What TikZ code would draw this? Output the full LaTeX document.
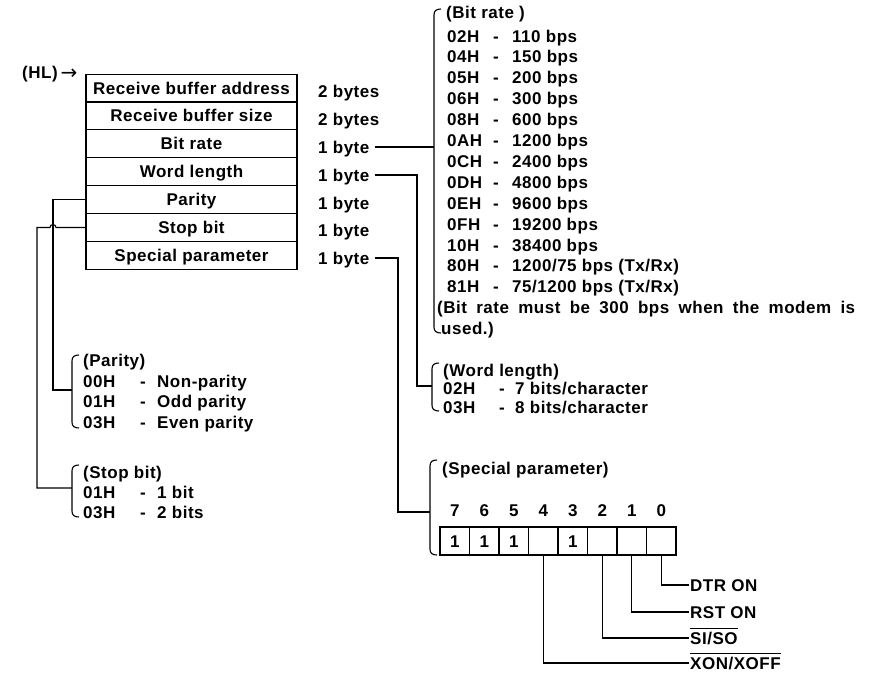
\documentclass[tikz,border=0pt]{standalone}
\usepackage{fontspec}
\setmainfont{Liberation Sans}[LetterSpace=3]
\newfontfamily\arrowfont{DejaVu Sans}
\newcommand\mybrack[3]{\draw[brk] (#1+7,#2) .. controls (#1+2,#2) and (#1,#2+2) .. (#1,#2+6) -- (#1,#3-6) .. controls (#1,#3-2) and (#1+2,#3) .. (#1+7,#3);}
\newcommand\hexline[6]{\node[txt] (#1) at (#2,#3) {\makebox[#4pt][l]{#5}#6};}
\begin{document}
\begin{tikzpicture}[x=1pt,y=-1pt,
  every node/.style={font=\fontsize{17}{20}\selectfont\bfseries},
  txt/.style={anchor=west,inner sep=0pt,text height=12pt,text depth=0pt},
  cell/.style={draw,line width=1.1pt,minimum width=211pt,minimum height=27.9pt,inner sep=0pt,text height=12pt,text depth=0pt},
  bitbox/.style={draw,line width=1.1pt,minimum width=29.5pt,minimum height=28pt,inner sep=0pt,text height=12pt,text depth=0pt},
  conn/.style={line width=1.1pt},
  brk/.style={line width=1.1pt}]
\useasboundingbox (0,0) rectangle (874,672);
\fill[white] (0,0) rectangle (874,672);

% HL pointer
\node[txt] (hl) at (22,72) {(HL)\,{\arrowfont\fontsize{20}{20}\selectfont\mdseries\raisebox{-1pt}{→}}};

% table
\node[cell] (r1) at (191.5,88) {Receive buffer address};
\node[cell] (r2) at (191.5,115.9) {Receive buffer size};
\node[cell] (r3) at (191.5,143.8) {Bit rate};
\node[cell] (r4) at (191.5,171.7) {Word length};
\node[cell] (r5) at (191.5,199.6) {Parity};
\node[cell] (r6) at (191.5,227.5) {Stop bit};
\node[cell] (r7) at (191.5,255.4) {Special parameter};

% byte counts
\node[txt] (by1) at (318,91) {2 bytes};
\node[txt] (by2) at (318,119) {2 bytes};
\node[txt] (by3) at (318,147) {1 byte};
\node[txt] (by4) at (318,175) {1 byte};
\node[txt] (by5) at (318,203) {1 byte};
\node[txt] (by6) at (318,230) {1 byte};
\node[txt] (by7) at (318,258) {1 byte};

% Bit rate list
\node[txt] (brt) at (446,12) {(Bit rate )};
\hexline{br1}{447}{36}{46}{02H}{\makebox[19pt][l]{-}110 bps}
\hexline{br2}{447}{56.9}{46}{04H}{\makebox[19pt][l]{-}150 bps}
\hexline{br3}{447}{77.8}{46}{05H}{\makebox[19pt][l]{-}200 bps}
\hexline{br4}{447}{98.7}{46}{06H}{\makebox[19pt][l]{-}300 bps}
\hexline{br5}{447}{119.6}{46}{08H}{\makebox[19pt][l]{-}600 bps}
\hexline{br6}{447}{140.5}{46}{0AH}{\makebox[19pt][l]{-}1200 bps}
\hexline{br7}{447}{161.4}{46}{0CH}{\makebox[19pt][l]{-}2400 bps}
\hexline{br8}{447}{182.3}{46}{0DH}{\makebox[19pt][l]{-}4800 bps}
\hexline{br9}{447}{203.2}{46}{0EH}{\makebox[19pt][l]{-}9600 bps}
\hexline{br10}{447}{224.1}{46}{0FH}{\makebox[19pt][l]{-}19200 bps}
\hexline{br11}{447}{245}{46}{10H}{\makebox[19pt][l]{-}38400 bps}
\hexline{br12}{447}{265.9}{46}{80H}{\makebox[19pt][l]{-}1200/75 bps (Tx/Rx)}
\hexline{br13}{447}{286.8}{46}{81H}{\makebox[19pt][l]{-}75/1200 bps (Tx/Rx)}
\node[txt] (brn1) at (437,307.7) {\makebox[418pt][s]{(Bit rate must be 300 bps when the modem is}};
\node[txt] (brn2) at (441,328.6) {used.)};
\mybrack{434}{9}{333}

% Word length list
\node[txt] (wlt) at (443,370) {(Word length)};
\hexline{wl1}{443}{388.5}{56}{02H}{\makebox[16pt][l]{-}7 bits/character}
\hexline{wl2}{443}{407.5}{56}{03H}{\makebox[16pt][l]{-}8 bits/character}
\mybrack{432}{363}{411}

% Parity list
\node[txt] (pat) at (83,360) {(Parity)};
\hexline{pa1}{83}{381}{57}{00H}{\makebox[17pt][l]{-}Non-parity}
\hexline{pa2}{83}{401.5}{57}{01H}{\makebox[17pt][l]{-}Odd parity}
\hexline{pa3}{83}{422}{57}{03H}{\makebox[17pt][l]{-}Even parity}
\mybrack{72}{355}{428}

% Stop bit list
\node[txt] (stt) at (83,472) {(Stop bit)};
\hexline{st1}{83}{492.5}{57}{01H}{\makebox[17pt][l]{-}1 bit}
\hexline{st2}{83}{512}{57}{03H}{\makebox[17pt][l]{-}2 bits}
\mybrack{72}{465}{517}

% Special parameter
\node[txt] (spt) at (442,468) {(Special parameter)};
\mybrack{430}{460}{555}
\foreach \b/\v in {7/1,6/1,5/1,4/,3/1,2/,1/,0/}{
  \node[bitbox] (bx\b) at ({440+29.5*(7-\b)+14.75},541) {\v};
  \node[inner sep=0pt,text height=12pt,text depth=0pt] (bd\b) at ({440+29.5*(7-\b)+14.75},510) {\b};
}
\node[txt,inner xsep=1pt] (lDTR) at (689,585) {DTR ON};
\node[txt,inner xsep=1pt] (lRST) at (689,612) {RST ON};
\node[txt,inner xsep=1pt] (lSI) at (689,638) {SI/SO};
\node[txt,inner xsep=1pt] (lXON) at (689,663) {XON/XOFF};
\draw[line width=1pt] ([yshift=3pt,xshift=1pt]lSI.north west) -- ([yshift=3pt,xshift=-1pt]lSI.north east);
\draw[line width=1pt] ([yshift=3pt,xshift=1pt]lXON.north west) -- ([yshift=3pt,xshift=-1pt]lXON.north east);
\draw[conn] (bx0.south) |- (lDTR.west);
\draw[conn] (bx1.south) |- (lRST.west);
\draw[conn] (bx2.south) |- (lSI.west);
\draw[conn] (bx4.south) |- (lXON.west);

% connector coordinates
\coordinate (brX) at (434,0);
\coordinate (wlX) at (417,0);
\coordinate (wlBr) at (432,386);
\coordinate (spX) at (398,0);
\coordinate (spBr) at (430,512);
\coordinate (paX) at (53,0);
\coordinate (paBr) at (72,390);
\coordinate (stX) at (37,0);
\coordinate (stBr) at (72,488);

\draw[conn] ([xshift=5pt]by3.east) -- (by3.east -| brX);
\draw[conn] ([xshift=5pt]by4.east) -- (by4.east -| wlX) -- (wlX |- wlBr) -- (wlBr);
\draw[conn] ([xshift=5pt]by7.east) -- (by7.east -| spX) -- (spX |- spBr) -- (spBr);
\draw[conn] (r5.west) -- (r5.west -| paX) -- (paX |- paBr) -- (paBr);
\draw[conn] (r6.west) -- ([xshift=3pt]r6.west -| paX) arc[start angle=0,end angle=180,radius=3pt] -- (r6.west -| stX) -- (stX |- stBr) -- (stBr);
\end{tikzpicture}
\end{document}
